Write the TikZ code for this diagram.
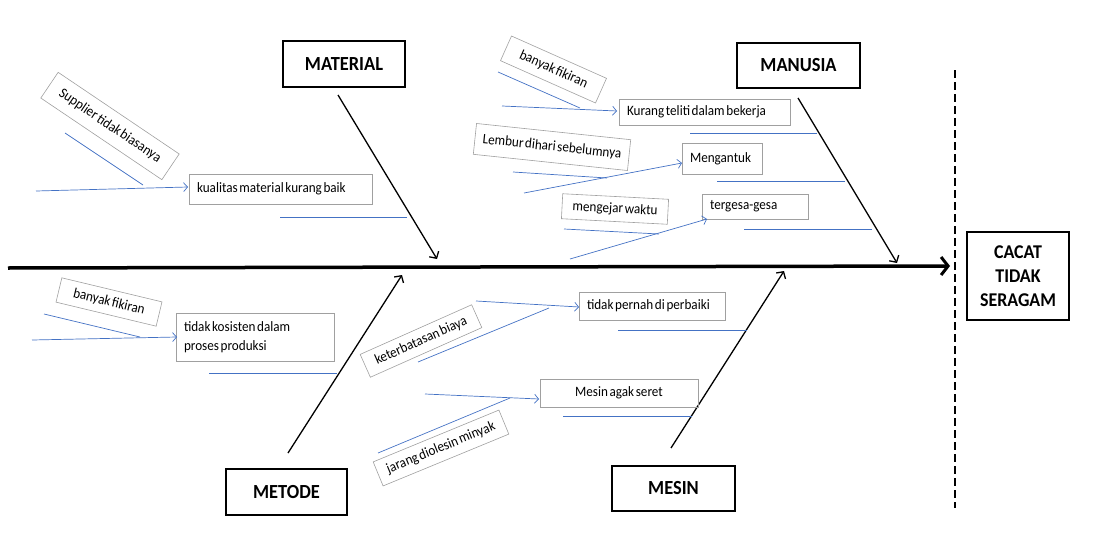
\documentclass[tikz,border=0pt]{standalone}
\usepackage{fontspec}
\setmainfont{Carlito}[FakeStretch=0.92,WordSpace=0.55]
\usetikzlibrary{arrows.meta}
\definecolor{blueline}{RGB}{68,114,196}
\definecolor{boxgray}{RGB}{160,160,160}
\newcommand\lbx[2]{\makebox[#1pt][l]{#2}}
\begin{document}
\begin{tikzpicture}[x=1pt,y=-1pt,
  cause/.style={draw=boxgray, line width=0.6pt, inner sep=0pt, font=\fontsize{14.3}{15}\selectfont, text=black},
  causel/.style={cause, inner xsep=8pt},
  cat/.style={draw=black, line width=2pt, font=\bfseries\fontsize{20}{22}\selectfont, inner sep=0pt},
  bl/.style={draw=blueline, line width=0.7pt},
  blarrow/.style={bl, -{Straight Barb[length=4pt,width=9pt,line width=0.7pt]}},
  catarrow/.style={draw=black, line width=1.3pt, -{Straight Barb[length=5pt,width=11pt,line width=1.3pt]}}]
\useasboundingbox (0,0) rectangle (1102,535);

% spine and effect
\coordinate (spineS) at (8,268);
\coordinate (spineE) at (950,266);
\draw[line width=3.5pt, -{Straight Barb[length=7pt,width=18pt,line width=3pt]}] (spineS) -- (spineE);
\coordinate (dashT) at (955,70);
\coordinate (dashB) at (955,508);
\draw[line width=1.6pt, dash pattern=on 8pt off 4pt] (dashT) -- (dashB);
\node[draw, line width=1.6pt, minimum width=102pt, minimum height=88pt, align=center,
      font=\bfseries\fontsize{19.5}{24}\selectfont] (effect) at (1018,276) {CACAT\\TIDAK\\SERAGAM};

% categories
\node[cat, minimum width=122pt, minimum height=46pt] (material) at (344,64) {MATERIAL};
\node[cat, minimum width=123pt, minimum height=45pt] (manusia) at (798.5,65.5) {MANUSIA};
\node[cat, minimum width=121pt, minimum height=46pt] (metode) at (286.5,492) {METODE};
\node[cat, minimum width=123pt, minimum height=45pt] (mesin) at (673.5,488.5) {MESIN};

\coordinate (matS) at (338,95);  \coordinate (matE) at (437,259);
\coordinate (manS) at (798,98);  \coordinate (manE) at (897,263);
\coordinate (metS) at (288,453); \coordinate (metE) at (402,275);
\coordinate (mesS) at (671,448); \coordinate (mesE) at (784,271);
\draw[catarrow] (matS) -- (matE);
\draw[catarrow] (manS) -- (manE);
\draw[catarrow] (metS) -- (metE);
\draw[catarrow] (mesS) -- (mesE);

% ---------- MATERIAL ----------
\node[cause, rotate=-34, minimum width=146pt, minimum height=31pt] (supp) at (110,126) {Supplier tidak biasanya};
\node[causel, minimum height=30pt] (kual) at (280.5,189) {\lbx{167}{kualitas material kurang baik}};
\coordinate (s1a) at (65,133);  \coordinate (s1b) at (143,185);
\coordinate (k1a) at (36,191);  \coordinate (k1b) at (188,187);
\coordinate (k2a) at (280,217); \coordinate (k2b) at (407,217);
\draw[bl] (s1a) -- (s1b);
\draw[blarrow] (k1a) -- (k1b);
\draw[bl] (k2a) -- (k2b);

% ---------- MANUSIA ----------
\node[cause, rotate=-24, minimum width=104pt, minimum height=27pt] (bf1) at (553.5,69.5) {banyak fikiran};
\node[causel, minimum height=26pt] (teliti) at (704.5,112) {\lbx{155}{Kurang teliti dalam bekerja}};
\coordinate (b1a) at (498,72);  \coordinate (b1b) at (580,108);
\coordinate (t1a) at (502,106); \coordinate (t1b) at (617,111);
\coordinate (t2a) at (690,133); \coordinate (t2b) at (817,133);
\draw[bl] (b1a) -- (b1b);
\draw[blarrow] (t1a) -- (t1b);
\draw[bl] (t2a) -- (t2b);

\node[cause, rotate=-6, minimum width=155pt, minimum height=31pt] (lembur) at (552,147) {Lembur dihari sebelumnya};
\node[causel, minimum height=31pt] (ngantuk) at (722,158.5) {\lbx{64}{Mengantuk}};
\coordinate (l1a) at (513,172); \coordinate (l1b) at (607,178);
\coordinate (m1a) at (524,193); \coordinate (m1b) at (682,163);
\coordinate (m2a) at (717,181); \coordinate (m2b) at (845,181);
\draw[bl] (l1a) -- (l1b);
\draw[blarrow] (m1a) -- (m1b);
\draw[bl] (m2a) -- (m2b);

\node[cause, rotate=-3, minimum width=106pt, minimum height=25pt] (kejar) at (615,209) {mengejar waktu};
\node[causel, minimum height=25pt] (gesa) at (755,206.5) {\lbx{90}{tergesa-gesa}};
\coordinate (w1a) at (564,229); \coordinate (w1b) at (659,234);
\coordinate (g1a) at (570,259); \coordinate (g1b) at (707,219);
\coordinate (g2a) at (744,229); \coordinate (g2b) at (872,229);
\draw[bl] (w1a) -- (w1b);
\draw[blarrow] (g1a) -- (g1b);
\draw[bl] (g2a) -- (g2b);

% ---------- METODE ----------
\node[cause, rotate=-13.5, minimum width=103pt, minimum height=25pt] (bf2) at (109,302) {banyak fikiran};
\node[causel, minimum height=48pt, align=left, font=\fontsize{14.3}{19}\selectfont] (kosisten) at (255,337) {\lbx{142}{tidak kosisten dalam}\\proses produksi};
\coordinate (b2a) at (44,314);  \coordinate (b2b) at (140,337);
\coordinate (ko1a) at (32,340); \coordinate (ko1b) at (177,337);
\coordinate (ko2a) at (209,373); \coordinate (ko2b) at (337,373);
\draw[bl] (b2a) -- (b2b);
\draw[blarrow] (ko1a) -- (ko1b);
\draw[bl] (ko2a) -- (ko2b);

% ---------- MESIN ----------
\node[cause, rotate=24, minimum width=122pt, minimum height=25pt] (biaya) at (421,341) {keterbatasan biaya};
\node[causel, minimum height=28pt] (perbaiki) at (652,306) {\lbx{130}{tidak pernah di perbaiki}};
\coordinate (by1a) at (418,362); \coordinate (by1b) at (549,308);
\coordinate (p1a) at (476,301);  \coordinate (p1b) at (579,307);
\coordinate (p2a) at (618,330);  \coordinate (p2b) at (747,330);
\draw[bl] (by1a) -- (by1b);
\draw[blarrow] (p1a) -- (p1b);
\draw[bl] (p2a) -- (p2b);

\node[cause, rotate=22.4, minimum width=136pt, minimum height=26pt] (oles) at (441,448) {jarang diolesin minyak};
\node[cause, minimum width=158pt, minimum height=28pt] (seret) at (619,393) {Mesin agak seret};
\coordinate (o1a) at (378,453);  \coordinate (o1b) at (510,398);
\coordinate (se1a) at (425,394); \coordinate (se1b) at (539,399);
\coordinate (se2a) at (563,416); \coordinate (se2b) at (692,416);
\draw[bl] (o1a) -- (o1b);
\draw[blarrow] (se1a) -- (se1b);
\draw[bl] (se2a) -- (se2b);
\end{tikzpicture}
\end{document}
